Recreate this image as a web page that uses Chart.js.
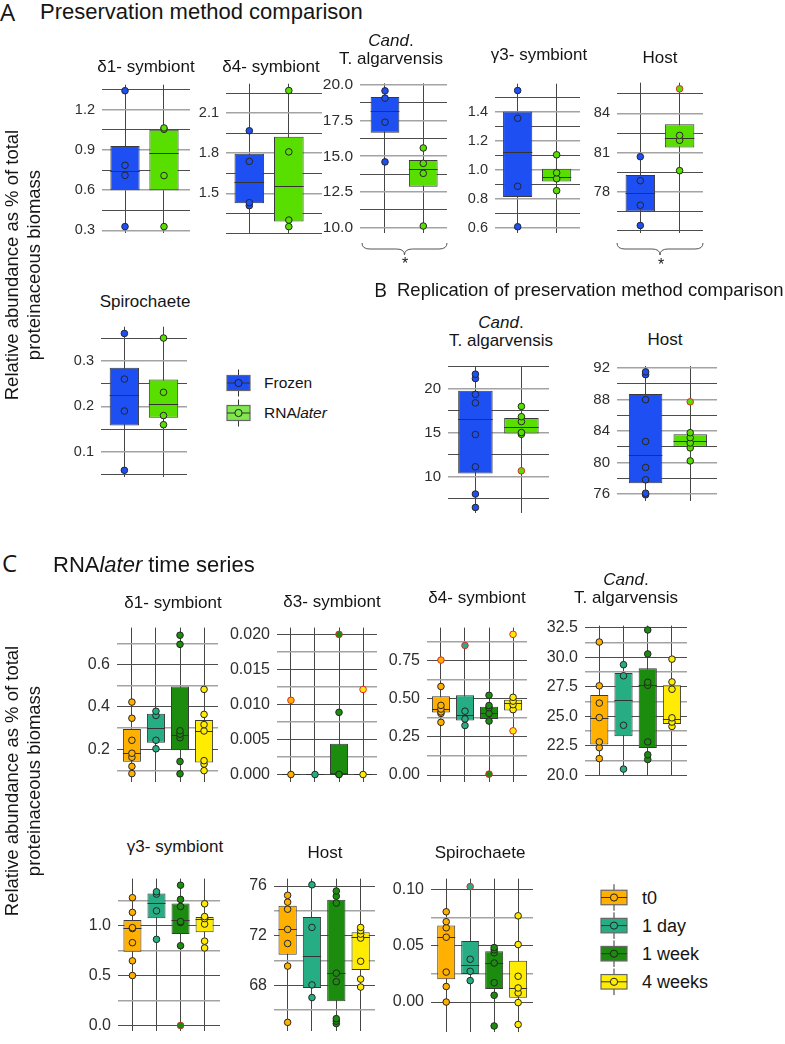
<!DOCTYPE html>
<html>
<head>
<meta charset="utf-8">
<script src="https://cdn.jsdelivr.net/npm/chart.js@4.4.1/dist/chart.umd.min.js"></script>
<style>
  body { margin: 0; width: 785px; height: 1044px; position: relative; overflow: hidden; background: #fff;
         font-family: "Liberation Sans", Arial, sans-serif; color: #151515; }
  .t { position: absolute; white-space: nowrap; line-height: 1; }
  .c { transform: translate(-50%, -50%); text-align: center; }
  .l { transform: translateY(-50%); }
  .letter { font-family: "Open Sans", sans-serif; }
  .ytitle { position: absolute; width: 340px; height: 44px; font-size: 18.5px; line-height: 22px;
            text-align: center; transform: rotate(-90deg); white-space: nowrap; }
  canvas { position: absolute; }
  #over { position: absolute; left: 0; top: 0; }
</style>
</head>
<body>
<svg id="over" width="785" height="1044"></svg>
<script>
// ====================
// Groups and colours
// ====================
const methodGroups = ['Frozen', 'RNA<i>later</i>'];
const methodColors = ['#1d4ff2', '#58df00'];
const methodKeyColors = ['#1d4ff2', '#80e74d'];
const timeGroups = ['t0', '1 day', '1 week', '4 weeks'];
const timeColors = ['#ffb000', '#27ad84', '#1b8c0d', '#ffec00'];

// ====================
// A: preservation method comparison (box = q1, median, q3)
// ====================
const aD1Box = [[0.60, 0.744, 0.931], [0.60, 0.88, 1.052]];
const aD1Pts = [[0.328, 0.711, 0.786, 1.343], [0.328, 0.709, 1.055, 1.065]];
const aD1Out = [[], []];
const aD1Ticks = [0.3, 0.45, 0.6, 0.75, 0.9, 1.05, 1.2, 1.35];
const aD1Labels = ['0.3', '', '0.6', '', '0.9', '', '1.2', ''];

const aD4Box = [[1.426, 1.587, 1.796], [1.289, 1.558, 1.924]];
const aD4Pts = [[1.408, 1.43, 1.739, 1.968], [1.251, 1.30, 1.81, 2.269]];
const aD4Out = [[], []];
const aD4Ticks = [1.2, 1.35, 1.5, 1.65, 1.8, 1.95, 2.1, 2.25];
const aD4Labels = ['', '', '1.5', '', '1.8', '', '2.1', ''];

const aTaBox = [[16.65, 18.2, 19.16], [12.85, 14.13, 14.74]];
const aTaPts = [[14.6, 17.39, 19.08, 19.59], [10.1, 13.8, 14.5, 15.58]];
const aTaOut = [[], []];
const aTaTicks = [10, 11.25, 12.5, 13.75, 15, 16.25, 17.5, 18.75, 20];
const aTaLabels = ['10.0', '', '12.5', '', '15.0', '', '17.5', '', '20.0'];

const aG3Box = [[0.814, 1.123, 1.403], [0.92, 0.953, 1.008]];
const aG3Pts = [[0.608, 0.887, 1.356, 1.547], [0.857, 0.939, 0.98, 1.104]];
const aG3Out = [[], []];
const aG3Ticks = [0.6, 0.7, 0.8, 0.9, 1.0, 1.1, 1.2, 1.3, 1.4, 1.5];
const aG3Labels = ['0.6', '', '0.8', '', '1.0', '', '1.2', '', '1.4', ''];

const aHostBox = [[76.5, 77.9, 79.28], [81.39, 82.11, 83.17]];
const aHostPts = [[75.42, 76.97, 78.85, 80.69], [79.62, 81.95, 82.32]];
const aHostOut = [[], [85.89]];
const aHostTicks = [75, 76.5, 78, 79.5, 81, 82.5, 84, 85.5];
const aHostLabels = ['', '', '78', '', '81', '', '84', ''];

const aSpiroBox = [[0.158, 0.224, 0.285], [0.175, 0.2045, 0.259]];
const aSpiroPts = [[0.06, 0.19, 0.26, 0.36], [0.16, 0.18, 0.231, 0.35]];
const aSpiroOut = [[], []];
const aSpiroTicks = [0.05, 0.1, 0.15, 0.2, 0.25, 0.3, 0.35];
const aSpiroLabels = ['', '0.1', '', '0.2', '', '0.3', ''];

// ====================
// B: replication
// ====================
const bTaBox = [[10.37, 16.57, 19.77], [14.93, 15.67, 16.67]];
const bTaPts = [[6.5, 8.03, 11.13, 14.8, 18.4, 19.37, 21.17, 21.67], [14.83, 15.03, 16.27, 16.83, 18.0]];
const bTaOut = [[], [10.67]];
const bTaTicks = [7.5, 10, 12.5, 15, 17.5, 20, 22.5];
const bTaLabels = ['', '10', '', '15', '', '20', ''];

const bHostBox = [[77.35, 81.0, 88.7], [82.0, 82.79, 83.6]];
const bHostPts = [[75.9, 76.1, 77.8, 79.37, 82.67, 87.97, 91.15, 91.5], [80.2, 81.85, 82.48, 83.15, 83.78]];
const bHostOut = [[], [87.7]];
const bHostTicks = [76, 78, 80, 82, 84, 86, 88, 90, 92];
const bHostLabels = ['76', '', '80', '', '84', '', '88', '', '92'];

// ====================
// C: RNAlater time series
// ====================
const cD1Box = [[0.142, 0.182, 0.296], [0.231, 0.303, 0.368], [0.196, 0.267, 0.496], [0.138, 0.286, 0.339]];
const cD1Pts = [[0.086, 0.12, 0.163, 0.182, 0.243, 0.347, 0.423], [0.203, 0.243, 0.36, 0.38],
                [0.085, 0.143, 0.255, 0.272, 0.288, 0.695, 0.738], [0.1, 0.131, 0.147, 0.287, 0.317, 0.365, 0.483]];
const cD1Out = [[], [], [], []];
const cD1Ticks = [0.1, 0.2, 0.3, 0.4, 0.5, 0.6, 0.7];
const cD1Labels = ['', '0.2', '', '0.4', '', '0.6', ''];

const cD3Box = [[0, 0, 0], [0, 0, 0], [0, 0, 0.0044], [0, 0, 0]];
const cD3Pts = [[0], [0], [0, 0, 0.00887], [0]];
const cD3Out = [[0.01059], [], [0.02], [0.01214]];
const cD3Ticks = [0, 0.0025, 0.005, 0.0075, 0.01, 0.0125, 0.015, 0.0175, 0.02];
const cD3Labels = ['0.000', '', '0.005', '', '0.010', '', '0.015', '', '0.020'];

const cD4Box = [[0.411, 0.436, 0.517], [0.358, 0.394, 0.523], [0.368, 0.404, 0.448], [0.423, 0.471, 0.494]];
const cD4Pts = [[0.346, 0.404, 0.414, 0.433, 0.457, 0.581], [0.325, 0.368, 0.419],
                [0.354, 0.404, 0.442, 0.456, 0.523], [0.429, 0.462, 0.485, 0.51]];
const cD4Out = [[0.754], [0.85], [0.006], [0.29, 0.923]];
const cD4Ticks = [0, 0.125, 0.25, 0.375, 0.5, 0.625, 0.75, 0.875];
const cD4Labels = ['0.00', '', '0.25', '', '0.50', '', '0.75', ''];

const cTaBox = [[22.6, 24.88, 26.8], [23.31, 26.36, 28.66], [22.3, 27.62, 29.05], [24.33, 24.8, 27.62]];
const cTaPts = [[21.41, 22.33, 22.82, 24.88, 26.11, 27.57, 31.28], [20.52, 24.23, 28.42, 29.36],
                [21.33, 21.73, 22.82, 27.62, 27.87, 30.27, 32.3], [24.13, 24.5, 24.86, 27.28, 27.9, 29.83]];
const cTaOut = [[], [], [], []];
const cTaTicks = [20, 21.25, 22.5, 23.75, 25, 26.25, 27.5, 28.75, 30, 31.25, 32.5];
const cTaLabels = ['20.0', '', '22.5', '', '25.0', '', '27.5', '', '30.0', '', '32.5'];

const cG3Box = [[0.738, 0.973, 1.056], [1.074, 1.229, 1.321], [0.915, 1.056, 1.221], [0.933, 1.07, 1.085]];
const cG3Pts = [[0.5, 0.647, 0.829, 0.97, 0.979, 1.132, 1.279], [0.862, 1.147, 1.315, 1.338],
                [0.798, 1.03, 1.04, 1.191, 1.262, 1.404], [0.776, 0.844, 1.015, 1.07, 1.09, 1.218]];
const cG3Out = [[], [], [0.0], []];
const cG3Ticks = [0, 0.25, 0.5, 0.75, 1.0, 1.25];
const cG3Labels = ['0.0', '', '0.5', '', '1.0', ''];

const cHostBox = [[70.46, 72.5, 74.4], [67.77, 70.37, 73.51], [66.7, 68.97, 74.89], [69.23, 71.88, 72.28]];
const cHostPts = [[65.0, 69.54, 71.36, 72.5, 74.13, 74.7, 75.25], [67.0, 68.02, 72.66, 76.1],
                  [64.9, 65.1, 65.3, 68.28, 68.97, 74.63, 75.18, 75.6], [67.85, 68.49, 69.93, 71.8, 72.12, 72.4, 72.66]];
const cHostOut = [[], [], [], []];
const cHostTicks = [66, 68, 70, 72, 74, 76];
const cHostLabels = ['', '68', '', '72', '', '76'];

const cSpiroBox = [[0.0203, 0.0578, 0.068], [0.025, 0.0328, 0.0542], [0.0115, 0.0349, 0.0451], [0.0037, 0.0128, 0.0367]];
const cSpiroPts = [[0.0, 0.0138, 0.0266, 0.0576, 0.066, 0.0714, 0.0802], [0.019, 0.0273, 0.038],
                   [-0.0213, 0.006, 0.0172, 0.0347, 0.0438, 0.0464, 0.0484], [-0.02, -0.0005, 0.0081, 0.0125, 0.0229, 0.0511, 0.0766]];
const cSpiroOut = [[], [0.1026], [], []];
const cSpiroTicks = [0, 0.025, 0.05, 0.075, 0.1];
const cSpiroLabels = ['0.00', '', '0.05', '', '0.10'];

// ====================
// Layout (plot area in page px: left, top, right, bottom)
// ====================
const gridAB = { major: '#a3a3a3', majorW: 1.6, minor: '#4d4d4d', minorW: 1 };
const gridC = { major: '#4d4d4d', majorW: 1, minor: '#a3a3a3', minorW: 1.6 };
const candTitle = '<i>Cand</i>.<br>T. algarvensis';

const panels = [
  { box: aD1Box, pts: aD1Pts, out: aD1Out, ticks: aD1Ticks, labels: aD1Labels, colors: methodColors,
    area: [102, 75, 190, 243], y: [0.278, 1.388], x: [0.41, 2.667], fs: 14.5, grid: gridAB,
    title: 'δ1- symbiont', tx: 146, ty: 67 },
  { box: aD4Box, pts: aD4Pts, out: aD4Out, ticks: aD4Ticks, labels: aD4Labels, colors: methodColors,
    area: [226, 74, 322, 243], y: [1.201, 2.32], x: [0.41, 2.84], fs: 14.5, grid: gridAB,
    title: 'δ4- symbiont', tx: 271, ty: 67 },
  { box: aTaBox, pts: aTaPts, out: aTaOut, ticks: aTaTicks, labels: aTaLabels, colors: methodColors,
    area: [360, 73, 447, 243], y: [9.63, 20.12], x: [0.347, 2.62], fs: 15.5, grid: gridAB,
    title: candTitle, tx: 391, ty: 50 },
  { box: aG3Box, pts: aG3Pts, out: aG3Out, ticks: aG3Ticks, labels: aG3Labels, colors: methodColors,
    area: [495, 74, 580, 243], y: [0.563, 1.594], x: [0.418, 2.6], fs: 14.5, grid: gridAB,
    title: 'γ3- symbiont', tx: 539, ty: 55 },
  { box: aHostBox, pts: aHostPts, out: aHostOut, ticks: aHostTicks, labels: aHostLabels, colors: methodColors,
    area: [617, 73, 703, 243], y: [74.82, 86.36], x: [0.407, 2.595], fs: 14.5, grid: gridAB,
    title: 'Host', tx: 660, ty: 58 },
  { box: aSpiroBox, pts: aSpiroPts, out: aSpiroOut, ticks: aSpiroTicks, labels: aSpiroLabels, colors: methodColors,
    area: [101, 317, 187, 487], y: [0.0447, 0.3748], x: [0.403, 2.6], fs: 14.5, grid: gridAB,
    title: 'Spirochaete', tx: 145, ty: 302 },
  { box: bTaBox, pts: bTaPts, out: bTaOut, ticks: bTaTicks, labels: bTaLabels, colors: methodColors,
    area: [448, 356, 549, 523], y: [5.87, 22.6], x: [0.404, 2.6], fs: 15, grid: gridAB,
    title: candTitle, tx: 501, ty: 332 },
  { box: bHostBox, pts: bHostPts, out: bHostOut, ticks: bHostTicks, labels: bHostLabels, colors: methodColors,
    area: [617, 356, 717, 511], y: [75.11, 92.25], x: [0.359, 2.6], fs: 15, grid: gridAB,
    title: 'Host', tx: 665, ty: 340 },
  { box: cD1Box, pts: cD1Pts, out: cD1Out, ticks: cD1Ticks, labels: cD1Labels, colors: timeColors,
    area: [117, 617, 218, 793], y: [0.0446, 0.774], x: [0.38, 4.58], fs: 16, grid: gridC,
    title: 'δ1- symbiont', tx: 173, ty: 603 },
  { box: cD3Box, pts: cD3Pts, out: cD3Out, ticks: cD3Ticks, labels: cD3Labels, colors: timeColors,
    area: [277, 617, 377, 793], y: [-0.00113, 0.02097], x: [0.42, 4.58], fs: 16, grid: gridC,
    title: 'δ3- symbiont', tx: 332, ty: 602 },
  { box: cD4Box, pts: cD4Pts, out: cD4Out, ticks: cD4Ticks, labels: cD4Labels, colors: timeColors,
    area: [427, 617, 527, 793], y: [-0.048, 0.967], x: [0.42, 4.58], fs: 16, grid: gridC,
    title: 'δ4- symbiont', tx: 477, ty: 598 },
  { box: cTaBox, pts: cTaPts, out: cTaOut, ticks: cTaTicks, labels: cTaLabels, colors: timeColors,
    area: [585, 615, 687, 787], y: [19.9, 32.67], x: [0.41, 4.62], fs: 16, grid: gridC,
    title: candTitle, tx: 626, ty: 589 },
  { box: cG3Box, pts: cG3Pts, out: cG3Out, ticks: cG3Ticks, labels: cG3Labels, colors: timeColors,
    area: [118, 868, 220, 1042], y: [-0.059, 1.47], x: [0.4, 4.64], fs: 16, grid: gridC,
    title: 'γ3- symbiont', tx: 175, ty: 847 },
  { box: cHostBox, pts: cHostPts, out: cHostOut, ticks: cHostTicks, labels: cHostLabels, colors: timeColors,
    area: [274, 868, 375, 1042], y: [64.27, 76.6], x: [0.44, 4.59], fs: 16, grid: gridC,
    title: 'Host', tx: 325, ty: 853 },
  { box: cSpiroBox, pts: cSpiroPts, out: cSpiroOut, ticks: cSpiroTicks, labels: cSpiroLabels, colors: timeColors,
    area: [431, 868, 533, 1043], y: [-0.027, 0.1097], x: [0.365, 4.62], fs: 16, grid: gridC,
    title: 'Spirochaete', tx: 480, ty: 853 }
];

Chart.defaults.font.family = '"Liberation Sans", Arial, sans-serif';

// Median line drawn right after the boxes, under the points
const medianPlugin = {
  id: 'medianLines',
  afterDatasetDraw(chart, args, opts) {
    if (args.meta.type !== 'bar') return;
    const ctx = chart.ctx;
    const yScale = chart.scales.y;
    ctx.save();
    ctx.strokeStyle = '#333';
    ctx.lineWidth = 1;
    args.meta.data.forEach((bar, i) => {
      const py = Math.round(yScale.getPixelForValue(opts.values[i])) + 0.5;
      ctx.beginPath();
      ctx.moveTo(bar.x - bar.width / 2, py);
      ctx.lineTo(bar.x + bar.width / 2, py);
      ctx.stroke();
    });
    ctx.restore();
  }
};

function addText(html, x, y, size, cls, extra) {
  const d = document.createElement('div');
  d.className = 't ' + cls;
  d.innerHTML = html;
  d.style.cssText = `left:${x}px;top:${y}px;font-size:${size}px;${extra || ''}`;
  document.body.appendChild(d);
}

function drawPanel(p) {
  const axisW = 60, pad = 6;
  const [l, t, r, b] = p.area;
  const cv = document.createElement('canvas');
  cv.width = r - l + axisW + pad;
  cv.height = b - t + 2 * pad;
  cv.style.left = (l - axisW) + 'px';
  cv.style.top = (t - pad) + 'px';
  document.body.appendChild(cv);

  const points = [], fill = [], edge = [];
  p.pts.forEach((vals, g) => vals.forEach(v => {
    points.push({ x: g + 1, y: v }); fill.push(p.colors[g]); edge.push('#262626');
  }));
  p.out.forEach((vals, g) => vals.forEach(v => {
    points.push({ x: g + 1, y: v }); fill.push(p.colors[g]); edge.push('#e3262a');
  }));

  new Chart(cv, {
    type: 'bar',
    data: {
      datasets: [
        { type: 'scatter', data: points, backgroundColor: fill, borderColor: edge,
          borderWidth: 1, pointRadius: 3.3, order: 0, clip: false },
        { type: 'bar', data: p.box.map((q, g) => ({ x: g + 1, y: [q[0], q[2]] })),
          backgroundColor: p.colors, borderColor: '#3a3a3a', borderWidth: 1, borderSkipped: false,
          barPercentage: 0.75, categoryPercentage: 1, order: 1 }
      ]
    },
    options: {
      responsive: false,
      animation: false,
      events: [],
      layout: { padding: { top: pad, bottom: pad, left: 0, right: pad } },
      plugins: {
        legend: { display: false },
        tooltip: { enabled: false },
        medianLines: { values: p.box.map(q => q[1]) }
      },
      scales: {
        x: {
          type: 'linear', min: p.x[0], max: p.x[1], bounds: 'data', offset: false,
          afterBuildTicks: s => { s.ticks = p.box.map((q, g) => ({ value: g + 1 })); },
          afterFit: s => { s.height = 0; },
          ticks: { display: false },
          border: { display: false },
          grid: { color: '#454545', lineWidth: 1, drawTicks: false, offset: false }
        },
        y: {
          type: 'linear', min: p.y[0], max: p.y[1], bounds: 'data',
          afterBuildTicks: s => { s.ticks = p.ticks.map(v => ({ value: v })); },
          afterFit: s => { s.width = axisW; },
          ticks: { autoSkip: false, padding: 7, color: '#2e2e2e', font: { size: p.fs },
                   callback: (v, i) => p.labels[i] },
          border: { display: false },
          grid: {
            drawTicks: false,
            color: c => p.labels[c.index] ? p.grid.major : p.grid.minor,
            lineWidth: c => p.labels[c.index] ? p.grid.majorW : p.grid.minorW
          }
        }
      }
    },
    plugins: [medianPlugin]
  });

  addText(p.title, p.tx, p.ty, 17, 'c', 'line-height:18px');
}

panels.forEach(drawPanel);

// ====================
// Headings, axis titles, legends, braces
// ====================
addText('A', 0, 12, 24, 'l letter');
addText('Preservation method comparison', 40, 12, 22, 'l');
addText('B', 374, 290, 20, 'l letter');
addText('Replication of preservation method comparison', 397, 290, 18.5, 'l');
addText('C', 2, 563, 24, 'l letter');
addText('RNA<i>later</i> time series', 53, 565, 22, 'l');

[265, 781].forEach(cy => {
  const d = document.createElement('div');
  d.className = 'ytitle';
  d.innerHTML = 'Relative abundance as % of total<br>proteinaceous biomass';
  d.style.left = (23 - 170) + 'px';
  d.style.top = (cy - 22) + 'px';
  document.body.appendChild(d);
});

const svg = document.getElementById('over');
let shapes = '';
function legendKey(x, cy, w, h, color) {
  const cx = x + w / 2;
  return `<line x1="${cx}" y1="${cy - h / 2 - 6}" x2="${cx}" y2="${cy + h / 2 + 6}" stroke="#333" stroke-width="1"/>` +
    `<rect x="${x}" y="${cy - h / 2}" width="${w}" height="${h}" fill="${color}" stroke="#666" stroke-width="1.2"/>` +
    `<line x1="${x}" y1="${cy}" x2="${x + w}" y2="${cy}" stroke="#333" stroke-width="1"/>` +
    `<circle cx="${cx}" cy="${cy}" r="3.6" fill="${color}" stroke="#222" stroke-width="1"/>`;
}
methodGroups.forEach((name, i) => {
  const cy = 383 + i * 30;
  shapes += legendKey(227, cy, 23, 15, methodKeyColors[i]);
  addText(name, 264, cy, 15.5, 'l');
});
timeGroups.forEach((name, i) => {
  const cy = 897.5 + i * 28.1;
  shapes += legendKey(601, cy, 26, 14.5, timeColors[i]);
  addText(name, 642, cy, 18, 'l');
});

function brace(x1, x2) {
  const xm = (x1 + x2) / 2, y0 = 243, y1 = 249, y2 = 255;
  return `<path d="M${x1} ${y0} Q${x1} ${y1} ${x1 + 8} ${y1} L${xm - 8} ${y1} Q${xm} ${y1} ${xm} ${y2} ` +
    `Q${xm} ${y1} ${xm + 8} ${y1} L${x2 - 8} ${y1} Q${x2} ${y1} ${x2} ${y0}" fill="none" stroke="#555" stroke-width="1"/>`;
}
shapes += brace(362, 447) + brace(617, 703);
svg.innerHTML = shapes;
addText('*', 405, 264, 16, 'c');
addText('*', 661, 265, 16, 'c');
</script>
</body>
</html>
